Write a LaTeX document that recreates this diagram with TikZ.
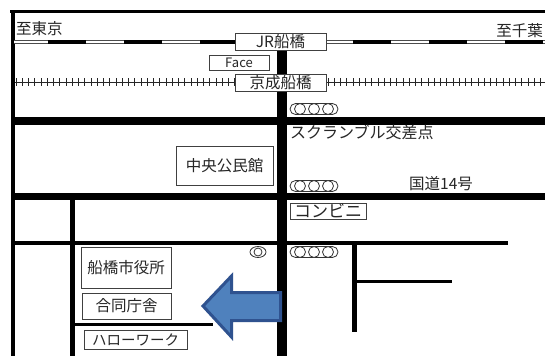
\documentclass[tikz,border=0pt]{standalone}
\usepackage{fontspec}
\setmainfont{Noto Sans CJK JP}
\definecolor{arrowfill}{RGB}{79,129,189}
\definecolor{arrowedge}{RGB}{47,82,143}
\begin{document}
\begin{tikzpicture}[x=1pt,y=-1pt,
  road/.style={line width=#1,black},
  box/.style={draw=black!75,line width=1pt,fill=white,inner sep=0pt,align=center,text=black!85,font=\fontsize{15.5}{15.5}\selectfont},
  label/.style={inner sep=0pt,text=black!85},
  signal/.style={draw=black!80,line width=.8pt,fill=white},
  track/.style={black!85,line width=1pt}]
\useasboundingbox (0,0) rectangle (545,356);
\fill[white] (0,0) rectangle (545,356);
% frame and roads
\draw[road=3pt] (10,11.5) -- (545,11.5);
\draw[road=4pt] (12.5,10) -- (12.5,356);
\draw[road=8pt] (13,121) -- (545,121);
\draw[road=7pt] (13,196.5) -- (545,196.5);
\draw[road=4pt] (13,243) -- (508,243);
\draw[road=10pt] (282,50) -- (282,356);
\draw[road=5pt] (72.5,197) -- (72.5,356);
\draw[road=3pt] (72,324) -- (213,324);
\draw[road=5pt] (354,243) -- (354,332);
\draw[road=3pt] (354,281) -- (452,281);
% JR line
\draw[black!70,line width=4pt] (14,42) -- (545,42);
\draw[white,line width=2pt] (14,42) -- (545,42);
\foreach \a/\b in {48/86,124/162,200/236,353/391,429/467,505/543}
  \draw[road=4pt] (\a,42) -- (\b,42);
% Keisei line
\draw[track] (15,82) -- (545,82);
\foreach \i in {0,...,35} \draw[track] ({16+6.25*\i},78) -- ({16+6.25*\i},86);
\foreach \i in {0,...,35} \draw[track] ({328+6.25*\i},78) -- ({328+6.25*\i},86);
% boxes
\node[box,minimum width=91pt,minimum height=17pt] (jr) at (280.5,41.5) {JR船橋};
\node[box,minimum width=60pt,minimum height=15pt,font=\fontsize{13}{13}\selectfont] (face) at (239,62.5) {Face};
\node[box,minimum width=91pt,minimum height=17pt] (keisei) at (280.5,82.5) {京成船橋};
\node[box,minimum width=97pt,minimum height=39pt] (chuo) at (224.5,165.5) {中央公民館};
\node[box,minimum width=90pt,minimum height=41pt] (shi) at (126,267.5) {船橋市役所};
\node[box,minimum width=89pt,minimum height=26pt] (godo) at (126.5,306) {合同庁舎};
\node[box,minimum width=103pt,minimum height=19pt,font=\fontsize{14.5}{14.5}\selectfont] (hello) at (135.5,339.5) {ハローワーク};
\node[box,minimum width=76pt,minimum height=16pt,font=\fontsize{17}{17}\selectfont] (conv) at (328,211) {コンビニ};
% texts
\node[label,anchor=west,font=\fontsize{15.5}{15.5}\selectfont] (to) at (16,29) {至東京};
\node[label,anchor=east,font=\fontsize{15.5}{15.5}\selectfont] (ch) at (543,31) {至千葉};
\node[label,anchor=west,font=\fontsize{16}{16}\selectfont] (sc) at (290,132) {スクランブル交差点};
\node[label,anchor=west,font=\fontsize{15.5}{15.5}\selectfont] (kd) at (409,184) {国道14号};
% signals
\foreach \y in {109,186,252}{
  \draw[signal,rounded corners=5.5pt] (290,\y-5.5) rectangle (338,\y+5.5);
  \foreach \x in {300,314,328} \draw[signal] (\x,\y) circle (5.5);
}
\draw[signal] (258,252) ellipse (8 and 5.5);
\draw[signal] (258,252) circle (4);
% arrow
\draw[fill=arrowfill,draw=arrowedge,line width=3pt,line join=miter]
  (203,306) -- (231.5,276) -- (231.5,292.5) -- (280.5,292.5) -- (280.5,320.5) -- (231.5,320.5) -- (231.5,337) -- cycle;
\end{tikzpicture}
\end{document}
